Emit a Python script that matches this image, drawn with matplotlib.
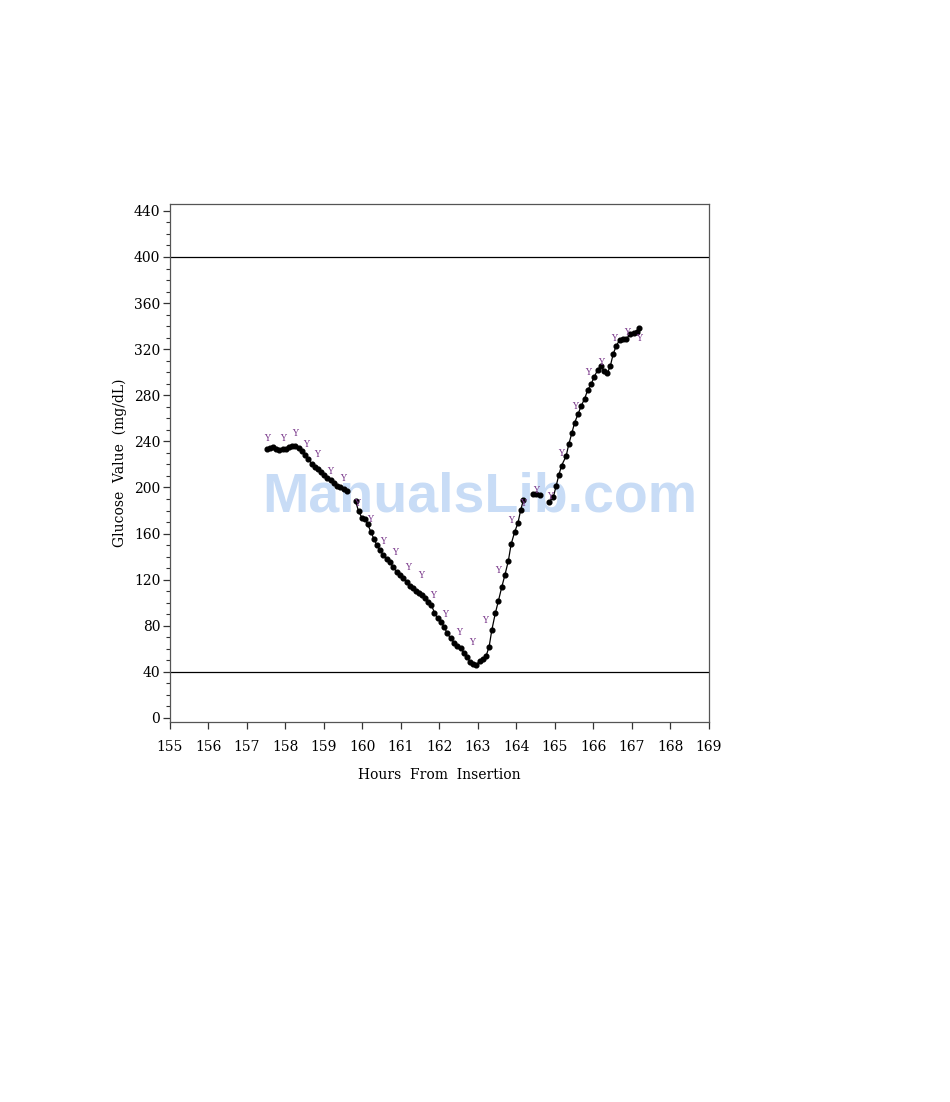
import matplotlib

matplotlib.use("Agg")

import matplotlib.pyplot as plt
import numpy as np
from matplotlib.ticker import MultipleLocator

# sensor readings (hours from insertion, mg/dL)
sensor_hours = [
    157.51, 157.60, 157.68, 157.76, 157.84, 157.93, 158.01, 158.09, 158.18,
    158.26, 158.34, 158.43, 158.51, 158.59, 158.68, 158.76, 158.84, 158.93,
    159.01, 159.09, 159.17, 159.26, 159.34, 159.42, 159.51, 159.59,
    159.82, 159.90, 159.99, 160.06, 160.14, 160.22, 160.30, 160.37, 160.45,
    160.54, 160.63, 160.71, 160.80, 160.89, 160.97, 161.06, 161.15, 161.23,
    161.31, 161.39, 161.47, 161.55, 161.62, 161.71, 161.79, 161.87, 161.95,
    162.03, 162.12, 162.20, 162.29, 162.38, 162.46, 162.55, 162.63, 162.71,
    162.79, 162.88, 162.96, 163.04, 163.12, 163.21, 163.29, 163.36, 163.45,
    163.53, 163.62, 163.70, 163.79, 163.86, 163.95, 164.04, 164.11, 164.18,
    164.44, 164.52, 164.60,
    164.85, 164.96, 165.03, 165.10, 165.17, 165.29, 165.36, 165.44, 165.51,
    165.60, 165.68, 165.77, 165.85, 165.94, 166.02, 166.11, 166.19, 166.27,
    166.36, 166.44, 166.51, 166.59, 166.68, 166.77, 166.85, 166.95, 167.05,
    167.13, 167.19,
]
sensor_glucose = [
    233.4, 234.7, 235.4, 233.4, 232.5, 233.0, 233.4, 235.1, 236.4,
    236.0, 234.3, 232.1, 228.6, 224.7, 220.8, 218.2, 216.1, 213.4,
    210.8, 208.2, 206.1, 203.9, 201.7, 200.4, 198.7, 197.0,
    188.3, 179.2, 173.5, 172.7, 167.9, 161.2, 155.3, 150.1, 145.8,
    141.4, 137.7, 135.1, 130.8, 126.9, 124.1, 121.2, 118.3, 114.8,
    112.8, 110.6, 108.5, 106.3, 103.9, 100.9, 98.0, 91.4, 86.5,
    83.6, 79.2, 73.5, 69.2, 65.3, 62.5, 60.5, 56.7, 53.2,
    48.9, 46.9, 46.0, 49.5, 50.9, 53.8, 61.9, 76.4, 90.8,
    101.5, 113.9, 124.1, 136.5, 150.7, 161.1, 169.5, 180.5, 189.2,
    194.4, 194.4, 193.9,
    187.7, 192.0, 201.3, 210.8, 218.9, 227.3, 237.7, 247.5, 256.2,
    263.8, 270.7, 277.0, 284.6, 289.8, 296.1, 302.0, 305.4, 301.1,
    299.1, 305.7, 315.6, 322.8, 328.0, 328.5, 328.9, 332.9, 333.8,
    334.5, 338.1,
]

# meter (reference) readings, drawn as "Y"
meter_hours = [
    157.53, 157.93, 158.24, 158.54, 158.82, 159.16, 159.51, 159.85, 160.20,
    160.53, 160.84, 161.19, 161.52, 161.84, 162.15, 162.51, 162.84, 163.18,
    163.52, 163.85, 164.18, 164.51, 164.87, 165.15, 165.53, 165.85, 166.20,
    166.53, 166.88, 167.19,
]
meter_glucose = [
    242.7, 242.7, 246.7, 236.9, 228.2, 213.7, 208.0, 186.3, 171.8,
    152.9, 143.7, 130.4, 123.5, 106.0, 90.2, 74.0, 65.9, 84.2,
    128.4, 171.1, 186.1, 197.2, 191.8, 229.1, 270.7, 299.6, 308.3,
    328.9, 334.3, 329.5,
]

limit_lines = [40, 400]
x_range = (155, 169)
y_range = (-3.5, 446)

serif = ["DejaVu Serif"]

figure = plt.figure(figsize=(9.5, 11.02), dpi=100)
axes = figure.add_axes([0.1789, 0.3448, 0.5674, 0.4701])

# watermark sits behind the data
axes.text(0.505, 0.549, "ManualsLib.com", transform=figure.transFigure,
          color="#c8dcf6", fontsize=40, fontweight="bold",
          family=["Liberation Sans", "DejaVu Sans"],
          ha="center", va="center", zorder=0.5)

# break the trace where readings are missing
hours = np.array(sensor_hours)
glucose = np.array(sensor_glucose)
gaps = np.where(np.diff(hours) > 0.15)[0] + 1
line_x = np.insert(hours, gaps, np.nan)
line_y = np.insert(glucose, gaps, np.nan)

axes.plot(line_x, line_y, color="black", linewidth=0.9, zorder=2)
axes.plot(hours, glucose, linestyle="none", marker="o", markersize=3.4,
          color="black", zorder=3)

for hx, gy in zip(meter_hours, meter_glucose):
    axes.text(hx, gy, "Y", color="#7b3a8c", fontsize=6.5, family=serif,
              ha="center", va="center", zorder=4)

for level in limit_lines:
    axes.axhline(level, color="black", linewidth=0.9, zorder=2)

axes.set_xlim(*x_range)
axes.set_ylim(*y_range)
axes.xaxis.set_major_locator(MultipleLocator(1))
axes.yaxis.set_major_locator(MultipleLocator(40))
axes.yaxis.set_minor_locator(MultipleLocator(10))

axes.tick_params(axis="both", which="major", direction="out", length=5,
                 width=0.9, color="#333333", labelsize=10)
axes.tick_params(axis="y", which="minor", direction="out", length=3,
                 width=0.8, color="#333333")
axes.tick_params(axis="x", pad=8)
axes.tick_params(axis="y", pad=2)
for label in axes.get_xticklabels() + axes.get_yticklabels():
    label.set_family(serif)

for spine in axes.spines.values():
    spine.set_color("#555555")
    spine.set_linewidth(0.9)

axes.set_xlabel("Hours  From  Insertion", family=serif, fontsize=10,
                labelpad=10)
axes.set_ylabel("Glucose  Value  (mg/dL)", family=serif, fontsize=10,
                labelpad=5)

figure.savefig("out.png", dpi=100)
